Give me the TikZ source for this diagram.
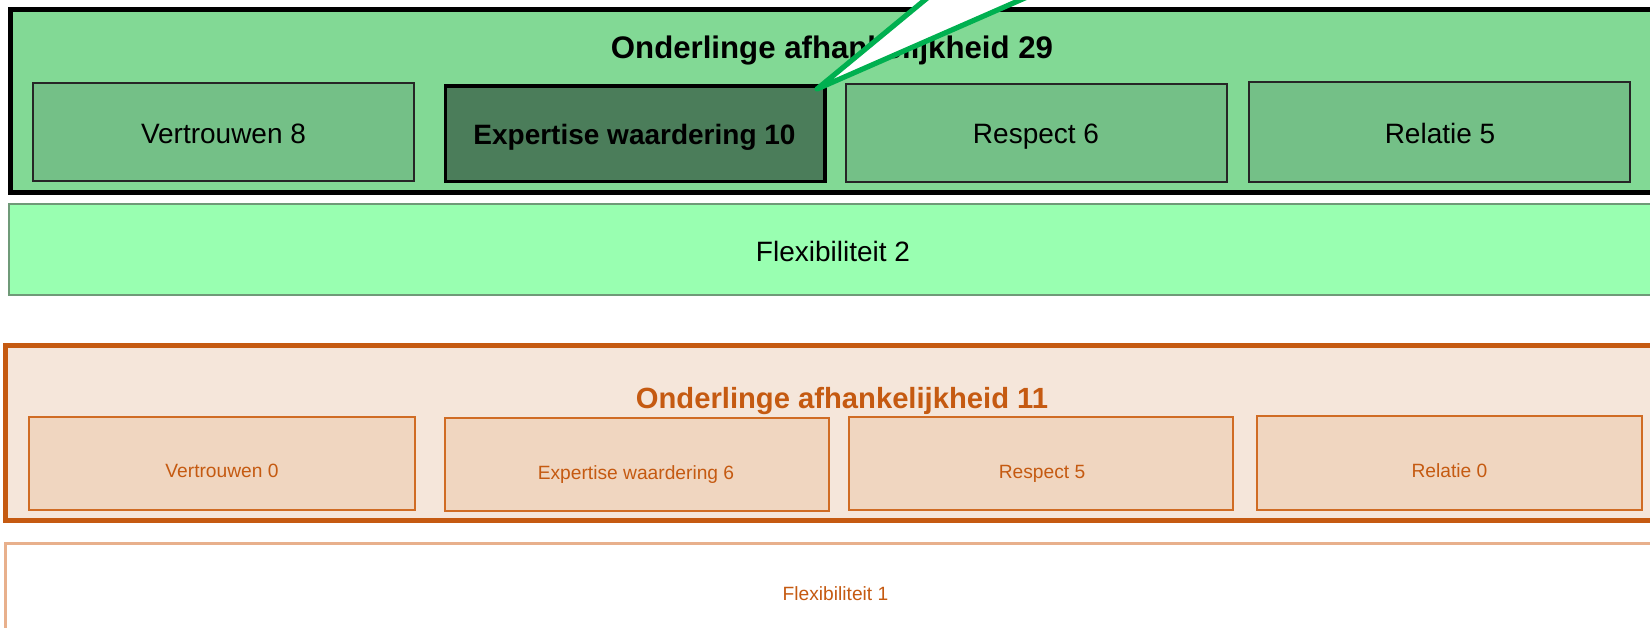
\documentclass[tikz,border=0pt]{standalone}
\usepackage{fontspec}
\setmainfont{Liberation Sans}
\usepackage{xcolor}
\usepackage{tikz}
\usetikzlibrary{positioning,calc}

\definecolor{topgreen}{HTML}{82D995}
\definecolor{boxgreen}{HTML}{74C087}
\definecolor{darkgreen}{HTML}{4B7D5A}
\definecolor{flexgreen}{HTML}{99FFB1}
\definecolor{flexline}{HTML}{6F9A78}
\definecolor{callgreen}{HTML}{00B050}
\definecolor{orangeline}{HTML}{C55A11}
\definecolor{orangefill}{HTML}{F5E6DA}
\definecolor{boxorange}{HTML}{F0D6C0}
\definecolor{boxorangeline}{HTML}{D06C24}
\definecolor{flexorange}{HTML}{E8B08C}

\begin{document}
\begin{tikzpicture}[x=0.5pt, y=-0.5pt,
    groentekst/.style={anchor=base, inner sep=0pt, font=\fontsize{14}{16}\selectfont},
    oranjetekst/.style={anchor=base, inner sep=0pt, text=orangeline, font=\fontsize{9.6}{11}\selectfont},
    groenvak/.style={fill=boxgreen, draw=black!85, line width=0.75pt},
    oranjevak/.style={fill=boxorange, draw=boxorangeline, line width=1pt}]
    \useasboundingbox (0,0) rectangle (1650,627);
    \clip (0,0) rectangle (1650,627);

    % Top block
    \filldraw[fill=topgreen, draw=black, line width=2.5pt] (10,9.5) rectangle (1680,192.5);
    \node[anchor=base, inner sep=0pt, font=\bfseries\fontsize{15.6}{18}\selectfont] (titelGroen) at (832,58) {Onderlinge afhankelijkheid 29};

    \filldraw[groenvak] (33,83) rectangle (414,181);
    \filldraw[fill=darkgreen, draw=black, line width=1.75pt] (445.5,86) rectangle (825,181.5);
    \filldraw[groenvak] (846,84) rectangle (1227,182);
    \filldraw[groenvak] (1249,82) rectangle (1630,182);

    \node[groentekst] (vertrouwenGroen) at (223.5,143) {Vertrouwen 8};
    \node[groentekst, font=\bfseries\fontsize{14}{16}\selectfont] (expertiseGroen) at (634.5,144) {Expertise waardering 10};
    \node[groentekst] (respectGroen) at (1036,143) {Respect 6};
    \node[groentekst] (relatieGroen) at (1440,143) {Relatie 5};

    \filldraw[fill=flexgreen, draw=flexline, line width=0.75pt] (9,204) rectangle (1680,295);
    \node[groentekst] (flexGroen) at (833,261) {Flexibiliteit 2};

    % Callout
    \coordinate (punt) at (817,89);
    \filldraw[fill=white, draw=callgreen, line width=2.6pt, line join=round]
        (949,-20) -- (punt) -- (1066,-20);

    % Bottom block
    \filldraw[fill=orangefill, draw=orangeline, line width=2.5pt] (5.5,345.5) rectangle (1680,520);
    \node[anchor=base, inner sep=0pt, text=orangeline, font=\bfseries\fontsize{14.6}{17}\selectfont] (titelOranje) at (842,408) {Onderlinge afhankelijkheid 11};

    \filldraw[oranjevak] (29,417) rectangle (415,510);
    \filldraw[oranjevak] (445,418) rectangle (829,511);
    \filldraw[oranjevak] (849,417) rectangle (1233,510);
    \filldraw[oranjevak] (1257,416) rectangle (1642,510);

    \node[oranjetekst] (vertrouwenOranje) at (222,477.5) {Vertrouwen 0};
    \node[oranjetekst] (expertiseOranje) at (636,479) {Expertise waardering 6};
    \node[oranjetekst] (respectOranje) at (1042,478) {Respect 5};
    \node[oranjetekst] (relatieOranje) at (1449.5,477) {Relatie 0};

    \filldraw[fill=white, draw=flexorange, line width=1.5pt] (5.5,543) rectangle (1680,700);
    \node[oranjetekst] (flexOranje) at (835.5,600.5) {Flexibiliteit 1};
\end{tikzpicture}
\end{document}
